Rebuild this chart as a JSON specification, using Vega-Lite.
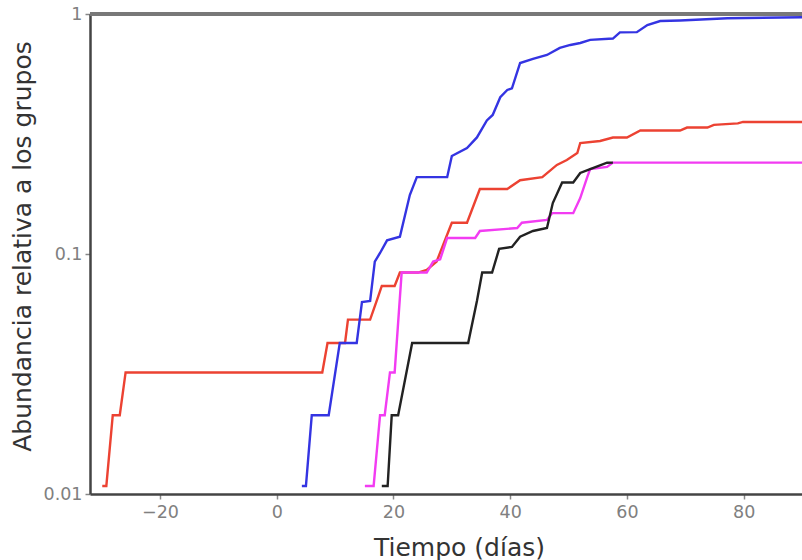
{
  "$schema": "https://vega.github.io/schema/vega-lite/v6.json",
  "width": 712,
  "height": 480,
  "autosize": {"type": "none"},
  "padding": {"left": 90, "top": 14, "right": 0, "bottom": 66},
  "background": "white",
  "config": {"view": {"stroke": null}, "font": "DejaVu Sans"},
  "data": {"values": [
    {"g":"rojo","t":-29.9,"v":0.0108},{"g":"rojo","t":-29.2,"v":0.0108},{"g":"rojo","t":-28.1,"v":0.0213},{"g":"rojo","t":-26.9,"v":0.0213},{"g":"rojo","t":-25.9,"v":0.0321},{"g":"rojo","t":7.8,"v":0.0321},{"g":"rojo","t":8.7,"v":0.0426},{"g":"rojo","t":11.7,"v":0.0426},{"g":"rojo","t":12.2,"v":0.0533},{"g":"rojo","t":16.0,"v":0.0533},{"g":"rojo","t":17.3,"v":0.0656},{"g":"rojo","t":18.0,"v":0.0736},{"g":"rojo","t":20.2,"v":0.0736},{"g":"rojo","t":21.1,"v":0.0837},{"g":"rojo","t":24.2,"v":0.0837},{"g":"rojo","t":25.7,"v":0.0858},{"g":"rojo","t":27.4,"v":0.0931},{"g":"rojo","t":30.0,"v":0.135},{"g":"rojo","t":32.6,"v":0.135},{"g":"rojo","t":34.8,"v":0.1866},{"g":"rojo","t":39.5,"v":0.1866},{"g":"rojo","t":41.7,"v":0.203},{"g":"rojo","t":45.5,"v":0.209},{"g":"rojo","t":48.0,"v":0.235},{"g":"rojo","t":49.7,"v":0.2464},{"g":"rojo","t":51.5,"v":0.2636},{"g":"rojo","t":52.0,"v":0.29},{"g":"rojo","t":55.4,"v":0.2958},{"g":"rojo","t":57.6,"v":0.3058},{"g":"rojo","t":60.0,"v":0.3058},{"g":"rojo","t":62.3,"v":0.327},{"g":"rojo","t":69.1,"v":0.327},{"g":"rojo","t":70.3,"v":0.3365},{"g":"rojo","t":73.8,"v":0.3365},{"g":"rojo","t":74.9,"v":0.345},{"g":"rojo","t":79.0,"v":0.35},{"g":"rojo","t":79.9,"v":0.355},{"g":"rojo","t":90,"v":0.355},
    {"g":"azul","t":4.3,"v":0.0108},{"g":"azul","t":5.0,"v":0.0108},{"g":"azul","t":6.0,"v":0.0213},{"g":"azul","t":8.9,"v":0.0213},{"g":"azul","t":10.8,"v":0.0426},{"g":"azul","t":13.7,"v":0.0426},{"g":"azul","t":14.6,"v":0.063},{"g":"azul","t":16.0,"v":0.0637},{"g":"azul","t":16.8,"v":0.093},{"g":"azul","t":17.7,"v":0.101},{"g":"azul","t":18.9,"v":0.114},{"g":"azul","t":21.1,"v":0.118},{"g":"azul","t":22.8,"v":0.176},{"g":"azul","t":24.0,"v":0.209},{"g":"azul","t":29.2,"v":0.209},{"g":"azul","t":30.0,"v":0.256},{"g":"azul","t":32.6,"v":0.2765},{"g":"azul","t":34.3,"v":0.306},{"g":"azul","t":36.0,"v":0.36},{"g":"azul","t":37.0,"v":0.3796},{"g":"azul","t":38.3,"v":0.45},{"g":"azul","t":39.5,"v":0.4825},{"g":"azul","t":40.3,"v":0.49},{"g":"azul","t":41.7,"v":0.625},{"g":"azul","t":43.9,"v":0.65},{"g":"azul","t":46.3,"v":0.675},{"g":"azul","t":48.5,"v":0.722},{"g":"azul","t":50.3,"v":0.743},{"g":"azul","t":52.0,"v":0.757},{"g":"azul","t":53.7,"v":0.78},{"g":"azul","t":57.6,"v":0.79},{"g":"azul","t":58.8,"v":0.838},{"g":"azul","t":61.7,"v":0.84},{"g":"azul","t":63.5,"v":0.9},{"g":"azul","t":65.7,"v":0.935},{"g":"azul","t":69.1,"v":0.94},{"g":"azul","t":77.2,"v":0.96},{"g":"azul","t":90,"v":0.97},
    {"g":"magenta","t":15.1,"v":0.0108},{"g":"magenta","t":16.6,"v":0.0108},{"g":"magenta","t":17.7,"v":0.0213},{"g":"magenta","t":18.5,"v":0.0213},{"g":"magenta","t":19.4,"v":0.0321},{"g":"magenta","t":20.2,"v":0.0321},{"g":"magenta","t":21.4,"v":0.0837},{"g":"magenta","t":25.7,"v":0.0837},{"g":"magenta","t":26.8,"v":0.093},{"g":"magenta","t":28.0,"v":0.095},{"g":"magenta","t":29.2,"v":0.1166},{"g":"magenta","t":34.0,"v":0.1166},{"g":"magenta","t":34.8,"v":0.1247},{"g":"magenta","t":41.2,"v":0.1283},{"g":"magenta","t":42.0,"v":0.135},{"g":"magenta","t":46.3,"v":0.1386},{"g":"magenta","t":47.2,"v":0.148},{"g":"magenta","t":50.8,"v":0.148},{"g":"magenta","t":52.0,"v":0.171},{"g":"magenta","t":53.2,"v":0.209},{"g":"magenta","t":53.7,"v":0.226},{"g":"magenta","t":56.6,"v":0.2305},{"g":"magenta","t":57.6,"v":0.2404},{"g":"magenta","t":90,"v":0.2404},
    {"g":"negro","t":18.0,"v":0.0108},{"g":"negro","t":19.0,"v":0.0108},{"g":"negro","t":19.7,"v":0.0213},{"g":"negro","t":20.8,"v":0.0213},{"g":"negro","t":23.2,"v":0.0426},{"g":"negro","t":32.8,"v":0.0426},{"g":"negro","t":34.3,"v":0.0637},{"g":"negro","t":35.2,"v":0.0837},{"g":"negro","t":36.9,"v":0.0837},{"g":"negro","t":38.1,"v":0.105},{"g":"negro","t":40.3,"v":0.107},{"g":"negro","t":41.7,"v":0.118},{"g":"negro","t":43.9,"v":0.1247},{"g":"negro","t":46.3,"v":0.1283},{"g":"negro","t":47.3,"v":0.163},{"g":"negro","t":48.9,"v":0.1986},{"g":"negro","t":50.8,"v":0.1986},{"g":"negro","t":52.0,"v":0.2175},{"g":"negro","t":53.7,"v":0.226},{"g":"negro","t":56.6,"v":0.24},{"g":"negro","t":57.6,"v":0.2404}
  ]},
  "layer": [
    {
      "mark": {"type": "line", "strokeWidth": 2.4, "interpolate": "linear"},
      "encoding": {
        "x": {
          "field": "t", "type": "quantitative",
          "scale": {"domain": [-32, 90], "nice": false, "zero": false},
          "axis": {
            "values": [-20, 0, 20, 40, 60, 80], "grid": false,
            "title": "Tiempo (días)", "titleFontSize": 25, "titleFontWeight": "normal", "titleColor": "#333333",
            "titleX": 369, "titleY": 53, "titleBaseline": "middle", "titleAlign": "center",
            "labelFontSize": 17.5, "labelColor": "#808080", "labelPadding": 4,
            "tickSize": 5, "tickColor": "#888888", "tickWidth": 1.5,
            "domainColor": "#444444", "domainWidth": 2.5
          }
        },
        "y": {
          "field": "v", "type": "quantitative",
          "scale": {"type": "log", "domain": [0.01, 1], "nice": false},
          "axis": {
            "values": [0.01, 0.1, 1], "format": ".2~f", "grid": false,
            "title": "Abundancia relativa a los grupos", "titleFontSize": 25, "titleFontWeight": "normal", "titleColor": "#333333",
            "titleX": -68, "titleY": 232, "titleBaseline": "middle", "titleAlign": "center", "titleAngle": 270,
            "labelFontSize": 17.5, "labelColor": "#808080", "labelPadding": 3,
            "tickSize": 5, "tickColor": "#888888", "tickWidth": 1.5,
            "domainColor": "#444444", "domainWidth": 2.5
          }
        },
        "color": {
          "field": "g", "type": "nominal",
          "scale": {"domain": ["rojo", "azul", "magenta", "negro"], "range": ["#ec4232", "#3434e2", "#f23cf2", "#222222"]},
          "legend": null
        }
      }
    },
    {
      "mark": {"type": "rule", "color": "#787878", "strokeWidth": 3},
      "encoding": {"y": {"datum": 1}}
    }
  ]
}
